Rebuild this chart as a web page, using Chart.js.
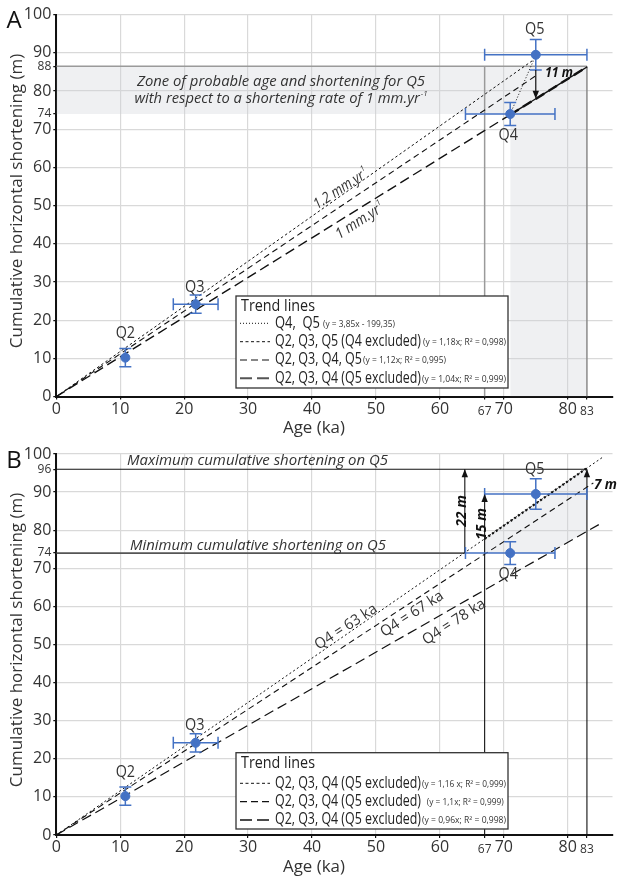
<!DOCTYPE html>
<html>
<head>
<meta charset="utf-8">
<script src="https://cdn.jsdelivr.net/npm/chart.js@4.4.1/dist/chart.umd.min.js"></script>
<style>
  html, body { margin: 0; padding: 0; background: #fff; }
  .panel { position: absolute; left: 0; width: 618px; height: 438px; }
</style>
</head>
<body>
<div class="panel" style="top:0"><canvas id="chartA"></canvas></div>
<div class="panel" style="top:438px"><canvas id="chartB"></canvas></div>
<script>
// ---- terrace data (same in both panels) ----
const terraces = ['Q2', 'Q3', 'Q4', 'Q5'];
const ageKa = [10.8, 21.8, 71, 75];
const shorteningM = [10.2, 24.2, 74, 89.5];
const ageErr = [0, 3.5, 7, 8];
const shorteningErr = [2.4, 2.4, 3, 4];

// ---- axes ----
const xTicks = [0, 10, 20, 30, 40, 50, 60, 70, 80];
const xMinorTicks = [67, 83];
const yTicks = [0, 10, 20, 30, 40, 50, 60, 70, 80, 90, 100];
const yMinorTicksA = [86.5, 74];
const yMinorLabelsA = ['88', '74'];
const yMinorTicksB = [96, 74];
const yMinorLabelsB = ['96', '74'];

// ---- panel A : trend lines ----
const trendNamesA = ['Q4,  Q5', 'Q2, Q3, Q5 (Q4 excluded)', 'Q2, Q3, Q4, Q5', 'Q2, Q3, Q4 (Q5 excluded)'];
const trendEqA = ['(y = 3,85x - 199,35)', '(y = 1,18x; R\u00b2 = 0,998)', '(y = 1,12x; R\u00b2 = 0,995)', '(y = 1,04x; R\u00b2 = 0,999)'];
const trendFromA = [[71, 74], [0, 0], [0, 0], [0, 0]];
const trendToA = [[75, 89.4], [74.5, 88], [75, 84], [83, 86.3]];
// zone of probable age / shortening for Q5
const zoneTopA = 86.5;
const zoneBottomA = 74;
const zoneAgeLineA = 67;
const zoneAgeFromA = 71;
const zoneAgeToA = 83;
const boldSegA = [[71, 73.8], [83, 86.3]];
const arrowA = [75, 85.5, 78]; // x, from y, to y  ("11 m")

// ---- panel B : trend lines ----
const trendNamesB = ['Q2, Q3, Q4 (Q5 excluded)', 'Q2, Q3, Q4 (Q5 excluded)', 'Q2, Q3, Q4 (Q5 excluded)'];
const trendEqB = ['(y = 1,16 x; R\u00b2 = 0,999)', '(y = 1,1x; R\u00b2 = 0,999)', '(y = 0,96x; R\u00b2 = 0,998)'];
const trendToB = [[85.5, 99.2], [84, 92.4], [85, 81.6]];
const zonePolyXB = [67, 67, 83, 83, 77.1, 67];
const zonePolyYB = [74, 77.7, 96.3, 79.7, 74, 74];
const boldSegB = [[67, 77.7], [83, 96.3]];
const maxShortB = 96;
const minShortB = 74;
const arrowsB = [[63.9, 74, 96], [67, 0, 89.5], [83, 0, 96]]; // x, from y, to y

// ---- styles ----
const BLUE = '#4472c4';
const GRID = '#d9d9d9';
const SHADE = 'rgba(205,208,215,0.32)';
const TEXT_FONT = '"Open Sans", "DejaVu Sans", sans-serif';
const TICK_FONT = '"Liberation Sans Narrow", "Open Sans", sans-serif';
const dashA = [[1, 2], [2.5, 2.5], [6, 4], [10, 5]];
const widthA = [1, 1, 1.1, 1.4];
const dashB = [[2, 2.5], [6, 4], [10, 5]];
const widthB = [1, 1.1, 1.2];

function txt(ctx, s, x, y, o) {
  o = o || {};
  const size = o.size || 15;
  const font = `${o.style || 'normal'} ${o.weight || 'normal'} ${size}px ${TEXT_FONT}`;
  const supFont = `${o.style || 'normal'} ${o.weight || 'normal'} ${Math.round(size * 0.55)}px ${TEXT_FONT}`;
  ctx.save();
  ctx.translate(x, y);
  if (o.rot) ctx.rotate(o.rot * Math.PI / 180);
  ctx.font = font;
  const wMain = ctx.measureText(s).width;
  ctx.font = supFont;
  const wSup = o.sup ? ctx.measureText(o.sup).width + 1 : 0;
  const natural = wMain + wSup;
  let k = o.squeeze || 1;
  if (o.w) k = Math.min(1, o.w / natural);
  if (o.fitW) k = o.fitW / natural;
  ctx.scale(k, 1);
  const x0 = o.align === 'left' ? 0 : o.align === 'right' ? -natural : -natural / 2;
  ctx.fillStyle = o.color || '#222';
  ctx.textBaseline = 'middle';
  ctx.textAlign = 'left';
  ctx.font = font;
  ctx.fillText(s, x0, 0);
  if (o.sup) {
    ctx.font = supFont;
    ctx.fillText(o.sup, x0 + wMain + 1, -size * 0.35);
  }
  ctx.restore();
  return natural * k;
}

function arrowHead(ctx, px, py, dir) {
  // dir: -1 points up, +1 points down
  ctx.beginPath();
  ctx.moveTo(px, py);
  ctx.lineTo(px - 3.2, py - dir * 8);
  ctx.lineTo(px + 3.2, py - dir * 8);
  ctx.closePath();
  ctx.fill();
}

function drawErrorBars(ctx, x, y) {
  ctx.save();
  ctx.strokeStyle = BLUE;
  ctx.lineWidth = 1.5;
  const cap = 6;
  ageKa.forEach((a, i) => {
    const px = x.getPixelForValue(a);
    const py = y.getPixelForValue(shorteningM[i]);
    if (shorteningErr[i]) {
      const y0 = y.getPixelForValue(shorteningM[i] - shorteningErr[i]);
      const y1 = y.getPixelForValue(shorteningM[i] + shorteningErr[i]);
      ctx.beginPath();
      ctx.moveTo(px, y0); ctx.lineTo(px, y1);
      ctx.moveTo(px - cap, y0); ctx.lineTo(px + cap, y0);
      ctx.moveTo(px - cap, y1); ctx.lineTo(px + cap, y1);
      ctx.stroke();
    }
    if (ageErr[i]) {
      const x0 = x.getPixelForValue(a - ageErr[i]);
      const x1 = x.getPixelForValue(a + ageErr[i]);
      ctx.beginPath();
      ctx.moveTo(x0, py); ctx.lineTo(x1, py);
      ctx.moveTo(x0, py - cap); ctx.lineTo(x0, py + cap);
      ctx.moveTo(x1, py - cap); ctx.lineTo(x1, py + cap);
      ctx.stroke();
    }
  });
  ctx.restore();
}

function drawTerraceLabels(ctx, x, y) {
  const dy = [-24, -17, 21, -25];
  const dx = [0, -1, -2, -1];
  terraces.forEach((t, i) => {
    txt(ctx, t, x.getPixelForValue(ageKa[i]) + dx[i], y.getPixelForValue(shorteningM[i]) + dy[i], { size: 16, color: '#333', squeeze: 0.9 });
  });
}

function drawLegend(ctx, box, titleY, rows) {
  ctx.save();
  ctx.fillStyle = '#fff';
  ctx.fillRect(box[0], box[1], box[2] - box[0], box[3] - box[1]);
  ctx.strokeStyle = '#333';
  ctx.lineWidth = 1.3;
  ctx.strokeRect(box[0], box[1], box[2] - box[0], box[3] - box[1]);
  ctx.restore();
  txt(ctx, 'Trend lines', box[0] + 5, titleY, { size: 16, align: 'left', w: 74, color: '#222' });
  rows.forEach(r => {
    ctx.save();
    ctx.strokeStyle = r.color || '#111';
    ctx.lineWidth = r.width;
    ctx.setLineDash(r.dash);
    ctx.beginPath();
    ctx.moveTo(box[0] + 4, r.y);
    ctx.lineTo(box[0] + 34, r.y);
    ctx.stroke();
    ctx.restore();
    txt(ctx, r.name, box[0] + 39, r.y, { size: 15.5, align: 'left', fitW: r.nameW, color: '#222' });
    txt(ctx, r.eq, box[0] + 39 + r.nameW + r.gap, r.y + 1, { size: 8.5, align: 'left', fitW: r.eqW, color: '#333' });
  });
}

function axisTitles(ctx, chart, yTitleY) {
  const a = chart.chartArea;
  txt(ctx, 'Age (ka)', 314, a.bottom + 31.7, { size: 17, w: 62, color: '#333' });
  txt(ctx, 'Cumulative horizontal shortening (m)', 16.7, yTitleY, { size: 17, w: 312, rot: -90, color: '#333' });
}

function makeScales(yMinor, yMinorLabels, axisH) {
  const minorX = c => c.tick && xMinorTicks.includes(c.tick.value);
  const minorY = c => c.tick && yMinor.includes(c.tick.value);
  return {
    x: {
      type: 'linear', min: 0, max: 87,
      afterBuildTicks: s => { s.ticks = xTicks.concat(xMinorTicks).sort((a, b) => a - b).map(v => ({ value: v })); },
      afterFit: s => { s.height = axisH; },
      border: { color: '#111', width: 2 },
      grid: { color: c => minorX(c) ? 'rgba(0,0,0,0)' : GRID, lineWidth: 1.2, tickLength: 3, tickColor: '#111' },
      ticks: {
        autoSkip: false, maxRotation: 0, padding: 0, color: '#333',
        font: c => minorX(c) ? { family: TICK_FONT, size: 12, lineHeight: 2.0 } : { family: TICK_FONT, size: 16, lineHeight: 1.2 },
        callback: v => String(v)
      }
    },
    y: {
      type: 'linear', min: 0, max: 100,
      afterBuildTicks: s => { s.ticks = yTicks.concat(yMinor).sort((a, b) => a - b).map(v => ({ value: v })); },
      afterFit: s => { s.width = 56.3; },
      border: { color: '#111', width: 2 },
      grid: { color: c => minorY(c) ? 'rgba(0,0,0,0)' : GRID, lineWidth: 1.2, tickLength: 3, tickColor: '#111' },
      ticks: {
        autoSkip: false, padding: 2, color: '#333',
        font: c => minorY(c) ? { family: TICK_FONT, size: 12 } : { family: TICK_FONT, size: 16 },
        callback: v => { const i = yMinor.indexOf(v); return i >= 0 ? yMinorLabels[i] : String(v); }
      }
    }
  };
}

function lineSet(points, color, width, dash, order) {
  return {
    type: 'scatter', showLine: true, data: points.map(p => ({ x: p[0], y: p[1] })),
    borderColor: color, borderWidth: width, borderDash: dash || [], pointRadius: 0, fill: false, order: order
  };
}

const pointSet = {
  type: 'scatter', label: 'terraces',
  data: ageKa.map((a, i) => ({ x: a, y: shorteningM[i] })),
  pointRadius: 4.5, backgroundColor: BLUE, borderColor: BLUE, order: 0
};

const baseOptions = (scales, topPad) => ({
  responsive: true, maintainAspectRatio: false, animation: false,
  layout: { padding: { top: topPad, right: 0.5, left: 0, bottom: 0 } },
  plugins: { legend: { display: false }, tooltip: { enabled: false } },
  scales: scales
});

// ---------------- Panel A ----------------
const datasetsA = [pointSet];
trendFromA.forEach((f, i) => datasetsA.push(lineSet([f, trendToA[i]], '#111', widthA[i], dashA[i], 1)));
datasetsA.push(lineSet(boldSegA, '#111', 2.4, [10, 5], 1));
datasetsA.push(lineSet([[0, zoneTopA], [zoneAgeToA, zoneTopA]], '#9a9a9a', 1.5, [], 2));
datasetsA.push(lineSet([[zoneAgeLineA, 0], [zoneAgeLineA, zoneTopA]], '#9a9a9a', 1.5, [], 2));
datasetsA.push(lineSet([[zoneAgeToA, 0], [zoneAgeToA, zoneTopA]], '#8a8a8a', 1.5, [], 2));
datasetsA.push(Object.assign(lineSet([[0, zoneTopA], [zoneAgeToA, zoneTopA]], 'rgba(0,0,0,0)', 0, [], 5), { fill: { value: zoneBottomA }, backgroundColor: SHADE }));
datasetsA.push(Object.assign(lineSet([[zoneAgeFromA, zoneBottomA], [zoneAgeToA, zoneBottomA]], 'rgba(0,0,0,0)', 0, [], 5), { fill: 'origin', backgroundColor: SHADE }));

const annotA = {
  id: 'annotA',
  afterDatasetsDraw(chart) {
    const { ctx, scales: { x, y } } = chart;
    drawErrorBars(ctx, x, y);
    ctx.save();
    ctx.strokeStyle = '#111'; ctx.fillStyle = '#111'; ctx.lineWidth = 1.2;
    const ax = x.getPixelForValue(arrowA[0]);
    ctx.beginPath();
    ctx.moveTo(ax, y.getPixelForValue(arrowA[1]));
    ctx.lineTo(ax, y.getPixelForValue(arrowA[2]) - 4);
    ctx.stroke();
    arrowHead(ctx, ax, y.getPixelForValue(arrowA[2]), 1);
    ctx.restore();
  },
  afterDraw(chart) {
    const { ctx, scales: { x, y } } = chart;
    drawTerraceLabels(ctx, x, y);
    txt(ctx, 'A', 14, 21, { size: 24, color: '#111' });
    txt(ctx, 'Zone of probable age and shortening for Q5', 281, 82, { size: 15, style: 'italic', w: 288, color: '#333' });
    txt(ctx, 'with respect to a shortening rate of 1 mm.yr', 281, 99, { size: 15, style: 'italic', w: 293, sup: '-1', color: '#333' });
    txt(ctx, '11 m', 545, 73, { size: 14, style: 'italic', weight: 'bold', align: 'left', w: 28, color: '#111' });
    txt(ctx, '1.2 mm.yr', 341, 189, { size: 15, style: 'italic', rot: -33, w: 62, sup: '1', color: '#333' });
    txt(ctx, '1 mm.yr', 360, 221, { size: 15, style: 'italic', rot: -33, w: 55, sup: '1', color: '#333' });
    const rowY = [323.3, 341.7, 360, 378.3];
    const nameW = [45, 146, 87, 146];
    const eqW = [72, 83, 83, 84];
    const gap = [3, 2, 1, 1];
    drawLegend(ctx, [236, 296, 508, 388], 306.7, trendNamesA.map((n, i) => ({
      y: rowY[i], name: n, eq: trendEqA[i], dash: [[1, 2], [3, 2.5], [7, 4], [12, 5]][i],
      width: [1, 1, 1.2, 2][i], color: i === 3 ? '#555' : '#111',
      nameW: nameW[i], eqW: eqW[i], gap: gap[i]
    })));
    axisTitles(ctx, chart, 201);
  }
};

new Chart(document.getElementById('chartA'), {
  type: 'scatter',
  data: { datasets: datasetsA },
  options: baseOptions(makeScales(yMinorTicksA, yMinorLabelsA, 41.4), 14.7),
  plugins: [annotA]
});

// ---------------- Panel B ----------------
const datasetsB = [pointSet];
trendToB.forEach((t, i) => datasetsB.push(lineSet([[0, 0], t], '#111', widthB[i], dashB[i], 1)));
datasetsB.push(lineSet(boldSegB, '#111', 2.2, [2, 2.5], 1));
datasetsB.push(lineSet([[0, maxShortB], [83, maxShortB]], '#111', 1.1, [], 2));
datasetsB.push(lineSet([[0, minShortB], [arrowsB[0][0], minShortB]], '#555', 1.8, [], 2));
arrowsB.forEach(a => datasetsB.push(lineSet([[a[0], a[1]], [a[0], a[2]]], '#111', 1.1, [], 2)));
datasetsB.push(Object.assign(lineSet(zonePolyXB.map((v, i) => [v, zonePolyYB[i]]), 'rgba(0,0,0,0)', 0, [], 5), { fill: 'shape', backgroundColor: SHADE }));

const annotB = {
  id: 'annotB',
  afterDatasetsDraw(chart) {
    const { ctx, scales: { x, y } } = chart;
    drawErrorBars(ctx, x, y);
    ctx.save();
    ctx.fillStyle = '#111';
    arrowsB.forEach(a => arrowHead(ctx, x.getPixelForValue(a[0]), y.getPixelForValue(a[2]), -1));
    ctx.restore();
  },
  afterDraw(chart) {
    const { ctx, scales: { x, y } } = chart;
    drawTerraceLabels(ctx, x, y);
    txt(ctx, 'B', 14, 23, { size: 24, color: '#111' });
    txt(ctx, 'Maximum cumulative shortening on Q5', 127, 23, { size: 15, style: 'italic', align: 'left', w: 261, color: '#333' });
    txt(ctx, 'Minimum cumulative shortening on Q5', 130, 108, { size: 15, style: 'italic', align: 'left', w: 256, color: '#333' });
    txt(ctx, '22 m', 462, 73, { size: 14, style: 'italic', weight: 'bold', rot: -90, w: 32, color: '#111' });
    txt(ctx, '15 m', 482, 86, { size: 14, style: 'italic', weight: 'bold', rot: -90, w: 32, color: '#111' });
    txt(ctx, '7 m', 594, 47, { size: 14, style: 'italic', weight: 'bold', align: 'left', w: 23, color: '#111' });
    txt(ctx, 'Q4 = 63 ka', 346, 189, { size: 15, rot: -33, w: 71, color: '#333' });
    txt(ctx, 'Q4 = 67 ka', 412, 176, { size: 15, rot: -33, w: 72, color: '#333' });
    txt(ctx, 'Q4 = 78 ka', 454, 184, { size: 15, rot: -33, w: 72, color: '#333' });
    const rowY = [345.3, 363.7, 382];
    const eqW = [84, 77, 84];
    const gap = [1, 5.7, 1];
    drawLegend(ctx, [236, 314.7, 508, 391], 325.3, trendNamesB.map((n, i) => ({
      y: rowY[i], name: n, eq: trendEqB[i], dash: [[3, 2.5], [7, 4], [12, 5]][i],
      width: [1, 1.2, 1.4][i], color: '#111',
      nameW: 146, eqW: eqW[i], gap: gap[i]
    })));
    axisTitles(ctx, chart, 202);
  }
};

new Chart(document.getElementById('chartB'), {
  type: 'scatter',
  data: { datasets: datasetsB },
  options: baseOptions(makeScales(yMinorTicksB, yMinorLabelsB, 41), 16),
  plugins: [annotB]
});
</script>
</body>
</html>
